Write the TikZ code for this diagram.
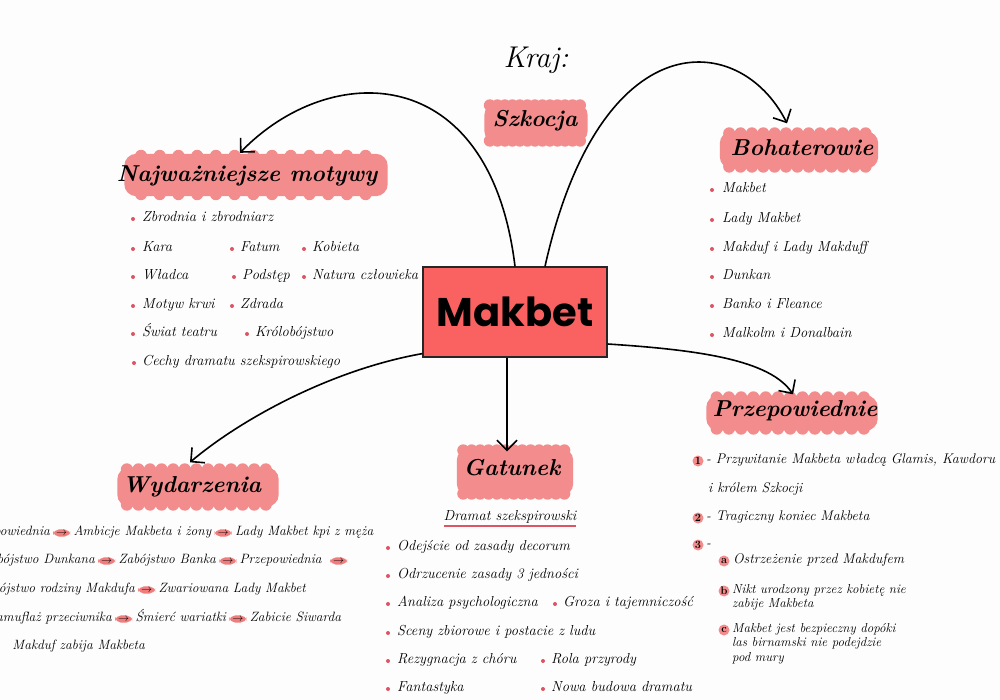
\documentclass[tikz,border=0pt]{standalone}
\usepackage{fontspec}
\newfontfamily\titlefont{Poppins}
\usetikzlibrary{arrows.meta,positioning,calc}
\definecolor{cloudpink}{RGB}{243,140,140}
\definecolor{boxred}{RGB}{250,98,98}
\definecolor{bulletpink}{RGB}{222,84,100}
\definecolor{pillpink}{RGB}{240,125,125}
\definecolor{paper}{RGB}{253,253,253}
\tikzset{
  cloudbox/.style={rectangle, draw=none, inner sep=0pt},
  headtxt/.style={font=\fontsize{23}{26}\selectfont\bfseries\itshape, inner sep=0pt},
  listitem/.style={font=\fontsize{14.5}{17}\selectfont\itshape, inner sep=0pt, anchor=mid west},
  evtxt/.style={font=\fontsize{13.5}{16}\selectfont\itshape, inner sep=0pt},
  smalltxt/.style={font=\fontsize{13}{14.5}\selectfont\itshape, inner sep=0pt, anchor=north west, align=left},
  conn/.style={line width=1.6pt, -{Straight Barb[length=10pt,width=20pt]}},
  pill/.style={fill=pillpink, rounded corners=5.5pt, inner xsep=3pt, inner ysep=1.5pt, font=\fontsize{11}{11}\selectfont},
  numdot/.style={circle, fill=cloudpink, inner sep=0pt, minimum size=11pt, font=\fontsize{11}{11}\selectfont\bfseries},
  bul/.style={fill=bulletpink}
}
\newcommand{\cloudat}[1]{%
  \fill[cloudpink, rounded corners=12pt] ([xshift=2pt,yshift=4pt]#1.south west) rectangle ([xshift=-2pt,yshift=-4pt]#1.north east);
  \foreach \t in {0.07,0.14,...,0.94} {
    \fill[cloudpink] ($([yshift=6pt]#1.south west)!\t!([yshift=6pt]#1.south east)$) circle (6pt);
    \fill[cloudpink] ($([yshift=-6pt]#1.north west)!\t!([yshift=-6pt]#1.north east)$) circle (6pt);
  }}
\begin{document}
\begin{tikzpicture}[x=1pt,y=-1pt]
\useasboundingbox (0,0) rectangle (1000,700);
\fill[paper] (0,0) rectangle (1000,700);

% central box
\node[draw=black!85, line width=1.2pt, fill=boxred, minimum width=184pt, minimum height=90pt,
      font=\titlefont\fontsize{40}{44}\selectfont\bfseries] (mak) at (515,312) {Makbet};

% country
\node[font=\fontsize{30}{32}\selectfont\itshape] (kraj) at (536,60) {Kraj:};
\node[cloudbox, minimum width=107pt, minimum height=47pt] (szkC) at (536,123) {};
\cloudat{szkC}
\node[headtxt] (szk) at (535,121) {Szkocja};

% clouds and headings
\node[cloudbox, minimum width=267pt, minimum height=50pt] (motC) at (256,175) {};
\cloudat{motC}
\node[headtxt] (mot) at (247,176) {Najważniejsze motywy};
\node[cloudbox, minimum width=162pt, minimum height=45pt] (bohC) at (799,150) {};
\cloudat{bohC}
\node[headtxt] (boh) at (802,148) {Bohaterowie};
\node[cloudbox, minimum width=165pt, minimum height=47pt] (wydC) at (198,487) {};
\cloudat{wydC}
\node[headtxt] (wyd) at (192,487) {Wydarzenia};
\node[cloudbox, minimum width=120pt, minimum height=55pt] (gatC) at (515,472) {};
\cloudat{gatC}
\node[headtxt] (gat) at (512,468) {Gatunek};
\node[cloudbox, minimum width=175pt, minimum height=43pt] (przC) at (792,413) {};
\cloudat{przC}
\node[headtxt] (prz) at (795,411) {Przepowiednie};

% connectors
\draw[conn] (mak.north) .. controls (490,60) and (330,60) .. ([xshift=-16pt,yshift=-3pt]motC.north);
\draw[conn] ([xshift=30pt]mak.north) .. controls (600,20) and (740,30) .. ([xshift=-12pt,yshift=4pt]bohC.north);
\draw[conn] ([yshift=4pt]mak.south west) .. controls (330,370) and (240,420) .. ([xshift=-8pt,yshift=1pt]wydC.north);
\draw[conn] ([xshift=-8pt]mak.south) -- ([xshift=-8pt,yshift=-7pt]gatC.north);
\draw[conn] ([yshift=-32pt]mak.east) .. controls (700,350) and (770,360) .. ([xshift=1pt,yshift=-3pt]przC.north);

% motives
\foreach \x/\y in {133/219,133/249,232/249,304/249,133/277,234/277,304/277,133/306,232/306,133/334,247/334,134/363}
  \fill[bul] (\x,\y) circle (2);
\node[listitem] (m1) at (142,219) {Zbrodnia i zbrodniarz};
\node[listitem] (m2) at (142,249) {Kara};
\node[listitem] (m3) at (240,249) {Fatum};
\node[listitem] (m4) at (312,249) {Kobieta};
\node[listitem] (m5) at (142,277) {Władca};
\node[listitem] (m6) at (242,277) {Podstęp};
\node[listitem] (m7) at (312,277) {Natura człowieka};
\node[listitem] (m8) at (142,306) {Motyw krwi};
\node[listitem] (m9) at (240,306) {Zdrada};
\node[listitem] (m10) at (142,334) {Świat teatru};
\node[listitem] (m11) at (255,334) {Królobójstwo};
\node[listitem] (m12) at (142,363) {Cechy dramatu szekspirowskiego};

% characters
\foreach \y in {190,220,249,277,306,335}
  \fill[bul] (712,\y) circle (2);
\node[listitem] (b1) at (722,190) {Makbet};
\node[listitem] (b2) at (722,220) {Lady Makbet};
\node[listitem] (b3) at (722,249) {Makduf i Lady Makduff};
\node[listitem] (b4) at (722,277) {Dunkan};
\node[listitem] (b5) at (722,306) {Banko i Fleance};
\node[listitem] (b6) at (722,335) {Malkolm i Donalbain};

% events
\node[evtxt, anchor=base east] (e1a) at (50,535) {Przepowiednia};
\node[pill, base right=3pt of e1a] (e1p1) {$\rightarrow$};
\node[evtxt, base right=3pt of e1p1] (e1b) {Ambicje Makbeta i żony};
\node[pill, base right=3pt of e1b] (e1p2) {$\rightarrow$};
\node[evtxt, base right=3pt of e1p2] (e1c) {Lady Makbet kpi z męża};

\node[evtxt, anchor=base east] (e2a) at (95,563) {Zabójstwo Dunkana};
\node[pill, base right=3pt of e2a] (e2p1) {$\rightarrow$};
\node[evtxt, base right=3pt of e2p1] (e2b) {Zabójstwo Banka};
\node[pill, base right=3pt of e2b] (e2p2) {$\rightarrow$};
\node[evtxt, base right=3pt of e2p2] (e2c) {Przepowiednia};
\node[pill, base right=8pt of e2c] (e2p3) {$\rightarrow$};

\node[evtxt, anchor=base east] (e3a) at (135,592) {Zabójstwo rodziny Makdufa};
\node[pill, base right=3pt of e3a] (e3p1) {$\rightarrow$};
\node[evtxt, base right=3pt of e3p1] (e3b) {Zwariowana Lady Makbet};

\node[evtxt, anchor=base east] (e4a) at (112,621) {Kamuflaż przeciwnika};
\node[pill, base right=3pt of e4a] (e4p1) {$\rightarrow$};
\node[evtxt, base right=3pt of e4p1] (e4b) {Śmierć wariatki};
\node[pill, base right=3pt of e4b] (e4p2) {$\rightarrow$};
\node[evtxt, base right=3pt of e4p2] (e4c) {Zabicie Siwarda};

\node[evtxt, anchor=base east] (e5a) at (145,649) {Makduf zabija Makbeta};

% genre
\node[listitem, anchor=center] (dram) at (510,517) {Dramat szekspirowski};
\draw[bulletpink, line width=1.8pt] ([yshift=-2pt]dram.south west) -- ([yshift=-2pt]dram.south east);
\foreach \x/\y in {388/548,388/576,388/604,555/604,388/633,388/661,543/661,388/689,543/689}
  \fill[bul] (\x,\y) circle (2);
\node[listitem] (g1) at (397,548) {Odejście od zasady decorum};
\node[listitem] (g2) at (397,576) {Odrzucenie zasady 3 jedności};
\node[listitem] (g3) at (397,604) {Analiza psychologiczna};
\node[listitem] (g4) at (563,604) {Groza i tajemniczość};
\node[listitem] (g5) at (397,633) {Sceny zbiorowe i postacie z ludu};
\node[listitem] (g6) at (397,661) {Rezygnacja z chóru};
\node[listitem] (g7) at (551,661) {Rola przyrody};
\node[listitem] (g8) at (397,689) {Fantastyka};
\node[listitem] (g9) at (551,689) {Nowa budowa dramatu};

% prophecies
\node[numdot] (p1) at (698,461) {1};
\node[listitem, font=\fontsize{14}{16}\selectfont\itshape] (p1t) at (706,461) {- Przywitanie Makbeta władcą Glamis, Kawdoru};
\node[listitem, font=\fontsize{14}{16}\selectfont\itshape] (p1u) at (708,490) {i królem Szkocji};
\node[numdot] (p2) at (698,518) {2};
\node[listitem, font=\fontsize{14}{16}\selectfont\itshape] (p2t) at (706,518) {- Tragiczny koniec Makbeta};
\node[numdot] (p3) at (698,545) {3};
\node[listitem, font=\fontsize{14}{16}\selectfont\itshape] (p3t) at (706,545) {-};
\node[numdot] (pa) at (724,561) {a};
\node[listitem, font=\fontsize{14}{16}\selectfont\itshape] (pat) at (733,561) {Ostrzeżenie przed Makdufem};
\node[numdot] (pb) at (724,591) {b};
\node[smalltxt] (pbt) at (732,584) {Nikt urodzony przez kobietę nie\\zabije Makbeta};
\node[numdot] (pc) at (724,630) {c};
\node[smalltxt] (pct) at (732,623) {Makbet jest bezpieczny dopóki\\las birnamski nie podejdzie\\pod mury};
\end{tikzpicture}
\end{document}
